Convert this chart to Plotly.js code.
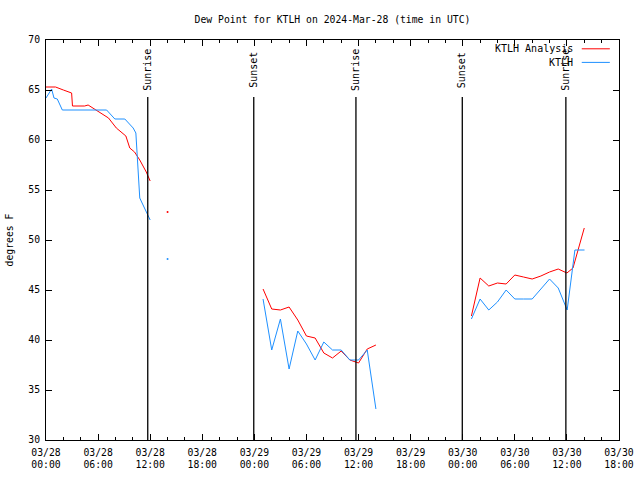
<!DOCTYPE html>
<html>
<head>
<meta charset="utf-8">
<script src="https://cdn.plot.ly/plotly-3.0.1.min.js"></script>
<style>html,body{margin:0;padding:0;background:#fff;}#chart{width:640px;height:480px;}</style>
</head>
<body>
<div id="chart"></div>
<script>
// Hours after 2024-03-28 00:00 UTC
const analysisHours1 = [0, 1.1, 2.0, 2.95, 3.05, 4.45, 4.85, 6.0, 7.2, 8.1, 8.7, 9.2, 9.65, 10.2, 10.8, 11.55, 12.0];
const analysisDew1   = [65.3, 65.3, 65.0, 64.7, 63.4, 63.4, 63.5, 62.9, 62.2, 61.2, 60.8, 60.4, 59.2, 58.8, 58.0, 56.8, 55.9];
const analysisHours2 = [25, 26, 27, 28, 29, 30, 31, 32, 33, 34, 35, 36, 37, 38];
const analysisDew2   = [45.1, 43.1, 43.0, 43.3, 42.0, 40.4, 40.2, 38.7, 38.2, 38.9, 38.0, 37.7, 39.1, 39.5];
const analysisHours3 = [49, 50, 51, 52, 53, 54, 55, 56, 57, 58, 59, 60, 60.7, 62];
const analysisDew3   = [42.4, 46.2, 45.4, 45.7, 45.6, 46.5, 46.3, 46.1, 46.4, 46.8, 47.1, 46.7, 47.2, 51.2];
const analysisLoneHours = [14.0];
const analysisLoneDew   = [52.8];

const obsHours1 = [0, 0.65, 0.92, 1.3, 1.88, 6.98, 7.93, 9.08, 10.04, 10.35, 10.8, 11.1, 11.56, 12.0];
const obsDew1   = [64.2, 65.1, 64.2, 64.1, 63.0, 63.0, 62.1, 62.1, 61.2, 60.7, 54.2, 53.7, 52.8, 52.0];
const obsHours2 = [25, 26, 27, 28, 29, 30, 31, 32, 33, 34, 35, 36, 37, 38];
const obsDew2   = [44.1, 39.0, 42.1, 37.1, 40.9, 39.6, 38.0, 39.8, 39.0, 39.0, 38.0, 38.0, 39.0, 33.1];
const obsHours3 = [49, 50, 51, 52, 53, 54, 55, 56, 57, 58, 59, 59.66, 60.03, 60.92, 62.03];
const obsDew3   = [42.1, 44.1, 43.0, 43.8, 45.0, 44.1, 44.1, 44.1, 45.1, 46.1, 45.2, 43.8, 43.0, 49.0, 49.0];
const obsLoneHours = [14.0];
const obsLoneDew   = [48.1];

const sunLabels = ["Sunrise", "Sunset", "Sunrise", "Sunset", "Sunrise"];
const sunHours  = [11.72, 23.93, 35.7, 47.95, 59.88];

const seriesNames = ["KTLH Analysis", "KTLH"];
const yTicks = [30, 35, 40, 45, 50, 55, 60, 65, 70];

const BASE = Date.UTC(2024, 2, 28, 0, 0, 0);
function toDate(h) {
  if (h === null) return null;
  return new Date(BASE + h * 3600000).toISOString().slice(0, 19).replace('T', ' ');
}
function join(hs, vs) {
  const x = [], y = [];
  hs.forEach((seg, i) => {
    if (i > 0) { x.push(null); y.push(null); }
    seg.forEach((h, j) => { x.push(toDate(h)); y.push(vs[i][j]); });
  });
  return {x, y};
}

const RED = "#ff0000";
const BLUE = "#1e90ff";
const FONT = "DejaVu Sans Mono, monospace";

const a = join([analysisHours1, analysisHours2, analysisHours3], [analysisDew1, analysisDew2, analysisDew3]);
const o = join([obsHours1, obsHours2, obsHours3], [obsDew1, obsDew2, obsDew3]);

const traces = [
  {x: a.x, y: a.y, type: 'scatter', mode: 'lines', name: seriesNames[0], line: {color: RED, width: 1}, connectgaps: false, showlegend: false},
  {x: o.x, y: o.y, type: 'scatter', mode: 'lines', name: seriesNames[1], line: {color: BLUE, width: 1}, connectgaps: false, showlegend: false},
  {x: analysisLoneHours.map(toDate), y: analysisLoneDew, type: 'scatter', mode: 'markers', marker: {color: RED, size: 2}, showlegend: false, hoverinfo: 'skip'},
  {x: obsLoneHours.map(toDate), y: obsLoneDew, type: 'scatter', mode: 'markers', marker: {color: BLUE, size: 2}, showlegend: false, hoverinfo: 'skip'}
];

const shapes = [];
const annotations = [];
sunHours.forEach((h, i) => {
  shapes.push({type: 'line', xref: 'x', yref: 'paper', x0: toDate(h), x1: toDate(h), y0: 0, y1: 0.8575, line: {color: '#000', width: 1.3}});
  annotations.push({xref: 'x', yref: 'paper', x: toDate(h), y: 0.925, text: sunLabels[i], textangle: -90, showarrow: false, font: {family: FONT, size: 10, color: '#000'}, xanchor: 'center', yanchor: 'middle'});
});
// legend (gnuplot style: text right-aligned, sample line to the right)
const legendY = [0.978, 0.944];
const legendColors = [RED, BLUE];
seriesNames.forEach((n, i) => {
  annotations.push({xref: 'paper', yref: 'paper', x: 0.924, y: legendY[i], text: n, showarrow: false, xanchor: 'right', yanchor: 'middle', font: {family: FONT, size: 10, color: '#000'}});
  shapes.push({type: 'line', xref: 'paper', yref: 'paper', x0: 0.935, x1: 0.984, y0: legendY[i], y1: legendY[i], line: {color: legendColors[i], width: 1}});
});

const layout = {
  width: 640, height: 480,
  margin: {l: 46, r: 21, t: 40, b: 40, pad: 0},
  paper_bgcolor: '#fff', plot_bgcolor: '#fff',
  font: {family: FONT, size: 10, color: '#000'},
  title: {text: 'Dew Point for KTLH on 2024-Mar-28 (time in UTC)', x: 0.5, xref: 'paper', xanchor: 'center', y: 0.96, yref: 'container', yanchor: 'middle', font: {family: FONT, size: 9.75, color: '#000'}},
  xaxis: {
    type: 'date',
    range: [toDate(0), toDate(66)],
    dtick: 6 * 3600000,
    tick0: toDate(0),
    tickformat: '%m/%d<br>%H:%M',
    ticks: 'inside', ticklen: 6, tickcolor: '#000', tickwidth: 1,
    minor: {dtick: 2 * 3600000, ticks: 'inside', ticklen: 3, tickcolor: '#000', showgrid: false},
    showline: true, linecolor: '#000', linewidth: 1, mirror: 'ticks',
    showgrid: false, zeroline: false,
    tickfont: {family: FONT, size: 9.75, color: '#000'},
    ticklabelstandoff: 3
  },
  yaxis: {
    range: [30, 70],
    tickvals: yTicks,
    ticktext: yTicks.map(String),
    ticks: 'inside', ticklen: 6, tickcolor: '#000', tickwidth: 1,
    showline: true, linecolor: '#000', linewidth: 1, mirror: 'ticks',
    showgrid: false, zeroline: false,
    tickfont: {family: FONT, size: 9.75, color: '#000'},
    ticklabelstandoff: 3,
    title: {text: 'degrees F', standoff: 12, font: {family: FONT, size: 9.75, color: '#000'}}
  },
  shapes: shapes,
  annotations: annotations,
  showlegend: false
};

Plotly.newPlot('chart', traces, layout, {staticPlot: true, displayModeBar: false});
</script>
</body>
</html>
